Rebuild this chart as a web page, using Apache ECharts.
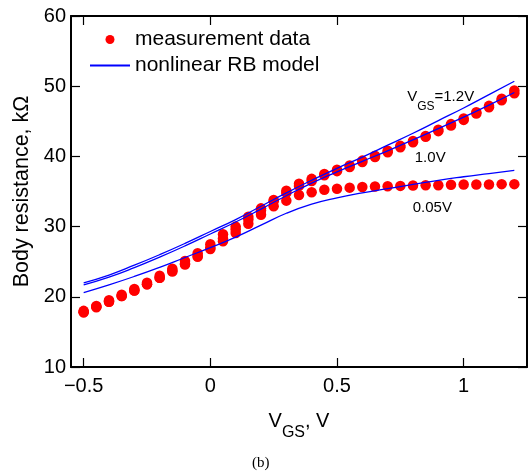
<!DOCTYPE html>
<html>
<head>
    <meta charset="utf-8">
    <title>Body resistance vs VGS</title>
    <script src="https://cdn.jsdelivr.net/npm/echarts@6/dist/echarts.min.js"></script>
    <style>
        html, body { margin: 0; padding: 0; background: #fff; }
        #chart { width: 531px; height: 472px; }
    </style>
</head>
<body>
<div id="chart"></div>
<script>
    // measured body resistance (kOhm), VGS swept -0.5..1.2 V
    var vgsMeas = [-0.5, -0.45, -0.4, -0.35, -0.3, -0.25, -0.2, -0.15, -0.1, -0.05,
        0, 0.05, 0.1, 0.15, 0.2, 0.25, 0.3, 0.35, 0.4, 0.45,
        0.5, 0.55, 0.6, 0.65, 0.7, 0.75, 0.8, 0.85, 0.9, 0.95,
        1.0, 1.05, 1.1, 1.15, 1.2];
    var meas12 = [18.0, 18.7, 19.5, 20.3, 21.1, 22.0, 23.0, 24.0, 25.1, 26.2,
        27.5, 28.9, 30.0, 31.4, 32.6, 33.8, 35.1, 36.1, 36.8, 37.5,
        38.1, 38.7, 39.4, 40.1, 40.8, 41.5, 42.2, 42.9, 43.8, 44.6,
        45.4, 46.3, 47.2, 48.2, 49.4];
    var meas10 = [17.8, 18.5, 19.3, 20.1, 20.9, 21.8, 22.7, 23.7, 24.7, 25.8,
        27.0, 28.3, 29.6, 31.0, 32.3, 33.6, 34.8, 35.8, 36.5, 37.3,
        37.9, 38.5, 39.2, 39.9, 40.6, 41.3, 42.0, 42.8, 43.6, 44.4,
        45.2, 46.1, 47.0, 48.0, 49.0];
    var meas005 = [17.8, 18.6, 19.3, 20.1, 20.9, 21.8, 22.7, 23.6, 24.6, 25.7,
        26.8, 27.9, 29.1, 30.4, 31.7, 32.9, 33.7, 34.5, 34.9, 35.25,
        35.4, 35.55, 35.65, 35.7, 35.75, 35.8, 35.85, 35.9, 35.9, 35.95,
        36.0, 36.0, 36.0, 36.05, 36.05];

    // nonlinear RB model curves
    var vgsModel = [-0.5, -0.4, -0.3, -0.2, -0.1, 0, 0.1, 0.2, 0.3, 0.4, 0.5, 0.6, 0.7, 0.8, 0.9, 1.0, 1.1, 1.2];
    var model12 = [22.0, 23.1, 24.5, 26.0, 27.6, 29.3, 31.0, 32.9, 34.8, 36.6, 38.3, 39.9, 41.6, 43.3, 45.1, 46.9, 48.8, 50.7];
    var model10 = [21.7, 22.8, 24.15, 25.65, 27.25, 28.95, 30.65, 32.5, 34.4, 36.2, 37.8, 39.3, 40.8, 42.35, 43.95, 45.6, 47.3, 49.1];
    var model005 = [20.6, 21.7, 22.9, 24.2, 25.6, 27.0, 28.5, 30.2, 31.9, 33.2, 34.1, 34.8, 35.4, 36.0, 36.6, 37.1, 37.55, 38.0];

    var xTicks = [-0.5, 0, 0.5, 1];

    // curve labels: text pieces + anchor (data coords of the left/center)
    var curveLabels = [
        { main: 'V', sub: 'GS', tail: '=1.2V', x: 0.777, y: 48.5 },
        { main: '1.0V', sub: '', tail: '', x: 0.807, y: 39.8 },
        { main: '0.05V', sub: '', tail: '', x: 0.799, y: 32.7 }
    ];

    var FONT = 'Liberation Sans, Arial, Helvetica, sans-serif';
    var RED = '#ff0000';
    var BLUE = '#0000ff';

    function zip(xs, ys) {
        var out = [];
        for (var i = 0; i < xs.length; i++) out.push([xs[i], ys[i]]);
        return out;
    }

    function measSeries(vals) {
        return {
            name: 'measurement data',
            type: 'scatter',
            symbol: 'circle',
            symbolSize: 10.5,
            itemStyle: { color: RED, opacity: 1 },
            data: zip(vgsMeas, vals),
            z: 3
        };
    }

    function modelSeries(vals) {
        return {
            name: 'nonlinear RB model',
            type: 'line',
            symbol: 'none',
            smooth: true,
            lineStyle: { color: BLUE, width: 1.3, opacity: 1 },
            itemStyle: { color: BLUE, opacity: 0 },   // hides the dot in the legend icon
            data: zip(vgsModel, vals),
            z: 4
        };
    }

    var axisLine = { show: true, onZero: false, lineStyle: { color: '#000', width: 2 } };
    var tickStyle = { color: '#000', width: 1.2 };

    var chart = echarts.init(document.getElementById('chart'));
    var option = {
        animation: false,
        backgroundColor: '#fff',
        grid: { left: 71, right: 4, top: 16, bottom: 105 },
        legend: {
            orient: 'vertical',
            left: 89,
            top: 29,
            padding: 0,
            itemWidth: 40,
            itemHeight: 9,
            itemGap: 5,
            textStyle: { fontSize: 21, lineHeight: 20, color: '#000', fontFamily: FONT },
            data: [
                { name: 'measurement data', icon: 'circle' },
                { name: 'nonlinear RB model' }
            ]
        },
        xAxis: [{
            type: 'value',
            min: -0.55,
            max: 1.25,
            position: 'bottom',
            axisLine: axisLine,
            axisTick: { inside: true, length: 9, customValues: xTicks, lineStyle: tickStyle },
            axisLabel: {
                customValues: xTicks,
                margin: 9,
                fontSize: 20,
                color: '#000',
                fontFamily: FONT,
                formatter: function (v) { return String(v).replace('-', '\u2212'); }
            },
            splitLine: { show: false },
            name: '{v|V}{s|GS}{v|, V}',
            nameLocation: 'middle',
            nameGap: 44,
            nameTextStyle: {
                rich: {
                    v: { fontSize: 20, lineHeight: 19, verticalAlign: 'top', color: '#000', fontFamily: FONT },
                    s: { fontSize: 16, lineHeight: 16, padding: [14, 0, 0, 0], verticalAlign: 'top', color: '#000', fontFamily: FONT }
                }
            }
        }, {
            type: 'value',
            min: -0.55,
            max: 1.25,
            position: 'top',
            axisLine: axisLine,
            axisTick: { inside: true, length: 9, customValues: xTicks, lineStyle: tickStyle },
            axisLabel: { show: false },
            splitLine: { show: false }
        }],
        yAxis: [{
            type: 'value',
            min: 10,
            max: 60,
            interval: 10,
            position: 'left',
            axisLine: axisLine,
            axisTick: { inside: true, length: 9, lineStyle: tickStyle },
            axisLabel: { margin: 5, fontSize: 20, color: '#000', fontFamily: FONT },
            splitLine: { show: false },
            name: 'Body resistance, k\u03A9',
            nameLocation: 'middle',
            nameGap: 30,
            nameTextStyle: { fontSize: 21.5, color: '#000', fontFamily: FONT }
        }, {
            type: 'value',
            min: 10,
            max: 60,
            interval: 10,
            position: 'right',
            axisLine: axisLine,
            axisTick: { inside: true, length: 9, lineStyle: tickStyle },
            axisLabel: { show: false },
            splitLine: { show: false }
        }],
        series: [
            measSeries(meas12),
            measSeries(meas10),
            measSeries(meas005),
            modelSeries(model12),
            modelSeries(model10),
            modelSeries(model005)
        ]
    };
    chart.setOption(option);

    // curve labels and the figure caption
    var graphics = [];
    curveLabels.forEach(function (lab) {
        var p = chart.convertToPixel({ xAxisIndex: 0, yAxisIndex: 0 }, [lab.x, lab.y]);
        var txt = '{m|' + lab.main + '}' + (lab.sub ? '{s|' + lab.sub + '}' : '') + (lab.tail ? '{m|' + lab.tail + '}' : '');
        graphics.push({
            type: 'text',
            x: p[0],
            y: p[1] - 7.5,
            style: {
                text: txt,
                align: 'left',
                verticalAlign: 'top',
                rich: {
                    m: { fontSize: 15, lineHeight: 15, verticalAlign: 'top', fill: '#000', fontFamily: FONT },
                    s: { fontSize: 12, lineHeight: 12, padding: [11, 0, 0, 0], verticalAlign: 'top', fill: '#000', fontFamily: FONT }
                }
            },
            z: 10
        });
    });
    graphics.push({
        type: 'text',
        x: 252,
        y: 456,
        style: { text: '(b)', fontSize: 15, fontFamily: 'Liberation Serif, Times New Roman, serif', fill: '#000' }
    });
    chart.setOption({ graphic: graphics });
</script>
</body>
</html>
